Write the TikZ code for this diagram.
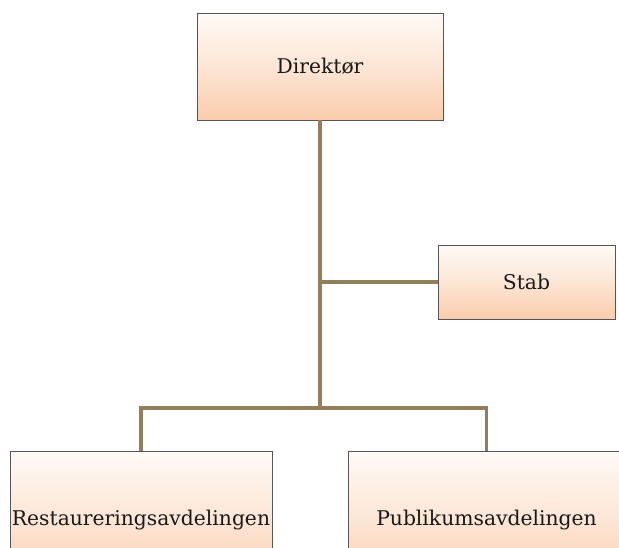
\documentclass[tikz,border=0pt]{standalone}
\usepackage{fontspec}
\setmainfont{DejaVu Serif}
\definecolor{linebrown}{RGB}{146,126,88}
\definecolor{peach}{RGB}{250,204,172}
\definecolor{boxtop}{RGB}{254,250,246}
\definecolor{edge}{RGB}{85,85,85}
\begin{document}
\begin{tikzpicture}[x=1pt,y=1pt,
  orgbox/.style={draw=edge, line width=0.8pt, rectangle, inner sep=0pt,
    top color=boxtop, bottom color=peach, middle color=peach!45!boxtop,
    font=\fontsize{20.3}{24}\selectfont, text=black!90},
  conn/.style={draw=linebrown, line width=3.6pt}]
\useasboundingbox (0,0) rectangle (619,547);
\clip (0,0) rectangle (619,547);
\node[orgbox, minimum width=246, minimum height=107] (dir) at (320,480.5) {Direktør};
\node[orgbox, minimum width=177, minimum height=74] (stab) at (526.5,265) {Stab};
\node[orgbox, minimum width=262, minimum height=138] (rest) at (141,27) {Restaureringsavdelingen};
\node[orgbox, minimum width=277, minimum height=138] (pub) at (486.5,27) {Publikumsavdelingen};
\coordinate (j2) at (320,139);
\coordinate (j1) at (320,265);
\draw[conn] (dir.south) -- (j2);
\draw[conn] (j1) -- (stab.west);
\draw[conn] (rest.north) |- (j2) -| (pub.north);
\end{tikzpicture}
\end{document}
